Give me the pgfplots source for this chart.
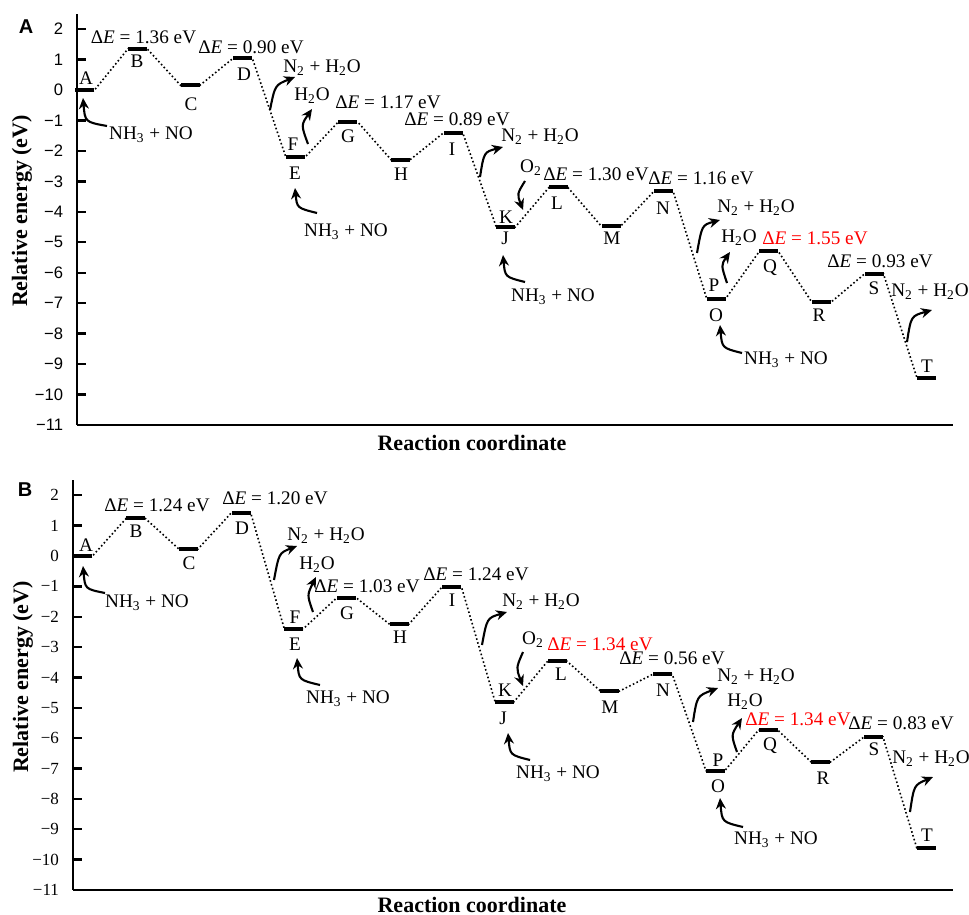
\documentclass[border=0pt]{standalone}
\usepackage{fontspec}
\setmainfont{Liberation Serif}
\newfontfamily\sansfont{Liberation Sans}
\usepackage{pgfplots}
\pgfplotsset{compat=1.18}
\usetikzlibrary{arrows.meta}
\newcommand{\nhno}{NH\textsubscript{3} + NO}
\newcommand{\nhho}{N\textsubscript{2} + H\textsubscript{2}O}
\newcommand{\hho}{H\textsubscript{2}O}
\newcommand{\oo}{O\textsubscript{2}}
\newcommand{\dE}[1]{Δ\textit{E} = #1 eV}
\pgfplotsset{energy/.style={
  scale only axis, axis lines=left, axis line style={-, line width=1.3pt},
  ymin=-11, ymax=2.5, xmax=16.5, xtick=\empty,
  ytick={-11,-10,-9,-8,-7,-6,-5,-4,-3,-2,-1,0,1,2},
  yticklabels={−11,−10,−9,−8,−7,−6,−5,−4,−3,−2,−1,0,1,2},
  tick align=inside, major tick length=4.5pt,
  ytick style={line width=1.2pt, black},
  clip=false,
}}
\begin{document}
\begin{tikzpicture}[
  arr/.style={line width=1.05pt,-{Stealth[length=5.5pt,width=5pt]}},
  lab/.style={inner sep=0pt, font=\fontsize{9.6}{11}\selectfont},
  path/.style={black, line width=0.8pt, dash pattern=on 0.8pt off 1.2pt},
  bars/.style={only marks, mark=-, mark size=4.75pt, mark options={line width=2pt, black, solid}},
]
\useasboundingbox (0,0) rectangle (484.5pt,-457.5pt);

% ---------------- Panel A ----------------
\begin{axis}[energy, at={(38.55pt,-212.475pt)}, anchor=south west,
  width=437.9pt, height=205.5pt, xmin=-0.15,
  yticklabel style={font=\fontsize{8.3}{9}\sansfont, xshift=-3.5pt}]
\addplot[path] coordinates {(-0.18,0) (0.18,0) (0.82,1.36) (1.18,1.36) (1.82,0.15) (2.18,0.15) (2.82,1.05) (3.18,1.05) (3.82,-2.21) (4.18,-2.21) (4.82,-1.04) (5.18,-1.04) (5.82,-2.29) (6.18,-2.29) (6.82,-1.40) (7.18,-1.40) (7.82,-4.50) (8.18,-4.50) (8.82,-3.20) (9.18,-3.20) (9.82,-4.48) (10.18,-4.48) (10.82,-3.32) (11.18,-3.32) (11.82,-6.85) (12.18,-6.85) (12.82,-5.30) (13.18,-5.30) (13.82,-6.97) (14.18,-6.97) (14.82,-6.04) (15.18,-6.04) (15.82,-9.47) (16.18,-9.47)};
\addplot[bars] table {
x y
0 0.00
1 1.36
2 0.15
3 1.05
4 -2.21
5 -1.04
6 -2.29
7 -1.40
8 -4.50
9 -3.20
10 -4.48
11 -3.32
12 -6.85
13 -5.30
14 -6.97
15 -6.04
16 -9.47
};
\end{axis}

% ---------------- Panel B ----------------
\begin{axis}[energy, at={(36.49pt,-444.98pt)}, anchor=south west,
  width=439.78pt, height=204.93pt, xmin=-0.19,
  yticklabel style={font=\fontsize{8.5}{10}\selectfont, xshift=-3.5pt}]
\addplot[path] coordinates {(-0.18,0) (0.18,0) (0.82,1.24) (1.18,1.24) (1.82,0.23) (2.18,0.23) (2.82,1.43) (3.18,1.43) (3.82,-2.40) (4.18,-2.40) (4.82,-1.37) (5.18,-1.37) (5.82,-2.25) (6.18,-2.25) (6.82,-1.01) (7.18,-1.01) (7.82,-4.80) (8.18,-4.80) (8.82,-3.46) (9.18,-3.46) (9.82,-4.45) (10.18,-4.45) (10.82,-3.89) (11.18,-3.89) (11.82,-7.07) (12.18,-7.07) (12.82,-5.73) (13.18,-5.73) (13.82,-6.79) (14.18,-6.79) (14.82,-5.96) (15.18,-5.96) (15.82,-9.61) (16.18,-9.61)};
\addplot[bars] table {
x y
0 0.00
1 1.24
2 0.23
3 1.43
4 -2.40
5 -1.37
6 -2.25
7 -1.01
8 -4.80
9 -3.46
10 -4.45
11 -3.89
12 -7.07
13 -5.73
14 -6.79
15 -5.96
16 -9.61
};
\end{axis}

% ---------------- Annotations (pixel grid) ----------------
\begin{scope}[x=0.5pt, y=-0.5pt]
% panel letters and axis labels
\node[inner sep=0pt, font=\fontsize{10}{12}\sansfont\bfseries] at (26,27) {A};
\node[inner sep=0pt, font=\fontsize{10}{12}\sansfont\bfseries] at (25,490) {B};
\node[inner sep=0pt, rotate=90, font=\fontsize{11}{13}\selectfont\bfseries] at (22,211) {Relative energy (eV)};
\node[inner sep=0pt, rotate=90, font=\fontsize{11}{13}\selectfont\bfseries] at (23,677) {Relative energy (eV)};
\node[inner sep=0pt, font=\fontsize{11}{13}\selectfont\bfseries] at (472,443) {Reaction coordinate};
\node[inner sep=0pt, font=\fontsize{11}{13}\selectfont\bfseries] at (472,905) {Reaction coordinate};

% ---- Panel A letters
\foreach \t/\x/\y in {A/86/78, B/137/61, C/191/104, D/244/74, F/293/144, E/295/173, G/348/136, H/401/174, I/452/149, K/506/217, J/505/238, L/557/203, M/612/238, N/663/208, P/714/285, O/716/315, Q/770/268, R/819/315, S/874/288, T/927/366}
  \node[lab] at (\x,\y) {\t};
% ---- Panel A Delta E
\node[lab] at (143.5,37) {\dE{1.36}};
\node[lab] at (251,47) {\dE{0.90}};
\node[lab] at (388,102) {\dE{1.17}};
\node[lab] at (457,119) {\dE{0.89}};
\node[lab] at (596,174) {\dE{1.30}};
\node[lab] at (701,178) {\dE{1.16}};
\node[lab, text=red] at (815,238) {\dE{1.55}};
\node[lab] at (880,261) {\dE{0.93}};
% ---- Panel A species
\node[lab] at (151,135) {\nhno};
\node[lab] at (322,68) {\nhho};
\node[lab] at (312,96) {\hho};
\node[lab] at (346,232) {\nhno};
\node[lab] at (540,137) {\nhho};
\node[lab] at (531,168) {\oo};
\node[lab] at (553,297) {\nhno};
\node[lab] at (756,208) {\nhho};
\node[lab] at (739,238) {\hho};
\node[lab] at (786,360) {\nhno};
\node[lab] at (930,292) {\nhho};
% ---- Panel A arrows
\draw[arr] (107,126) .. controls (85,122) .. (83,98);
\draw[arr] (270,110) .. controls (275,85) .. (295,77);
\draw[arr] (308,144) .. controls (301,125) .. (312,109);
\draw[arr] (317,213) .. controls (297,208) .. (295,188);
\draw[arr] (480,177) .. controls (484,152) .. (503,147);
\draw[arr] (525,181) .. controls (517,194) .. (523,210);
\draw[arr] (525,282) .. controls (505,277) .. (503,255);
\draw[arr] (697,253) .. controls (702,225) .. (720,220);
\draw[arr] (727,283) .. controls (721,265) .. (730,252);
\draw[arr] (742,353) .. controls (722,348) .. (720,325);
\draw[arr] (907,342) .. controls (911,316) .. (932,310);

% ---- Panel B letters
\foreach \t/\x/\y in {A/86/545, B/136/531, C/189/563, D/242/528, F/295/617, E/295/644, G/347/613, H/400/637, I/452/600, K/505/690, J/503/718, L/561/674, M/610/707, N/663/690, P/718/760, O/718/786, Q/770/746, R/823/778, S/874/749, T/927/835}
  \node[lab] at (\x,\y) {\t};
% ---- Panel B Delta E
\node[lab] at (157,505) {\dE{1.24}};
\node[lab] at (275,498) {\dE{1.20}};
\node[lab] at (367,586) {\dE{1.03}};
\node[lab] at (476,574) {\dE{1.24}};
\node[lab, text=red] at (600,644) {\dE{1.34}};
\node[lab] at (672,658) {\dE{0.56}};
\node[lab, text=red] at (798,719) {\dE{1.34}};
\node[lab] at (901,723) {\dE{0.83}};
% ---- Panel B species
\node[lab] at (147,603) {\nhno};
\node[lab] at (326,536) {\nhho};
\node[lab] at (317,565) {\hho};
\node[lab] at (348,699) {\nhno};
\node[lab] at (541,602) {\nhho};
\node[lab] at (533,640) {\oo};
\node[lab] at (558,774) {\nhno};
\node[lab] at (756,677) {\nhho};
\node[lab] at (745,702) {\hho};
\node[lab] at (776,840) {\nhno};
\node[lab] at (931,759) {\nhho};
% ---- Panel B arrows
\draw[arr] (105,593) .. controls (85,589) .. (83,566);
\draw[arr] (274,580) .. controls (279,553) .. (297,546);
\draw[arr] (313,612) .. controls (307,595) .. (316,577);
\draw[arr] (320,685) .. controls (299,680) .. (297,658);
\draw[arr] (482,645) .. controls (487,618) .. (507,612);
\draw[arr] (523,652) .. controls (516,668) .. (523,686);
\draw[arr] (530,760) .. controls (510,755) .. (508,733);
\draw[arr] (693,722) .. controls (697,696) .. (718,688);
\draw[arr] (737,752) .. controls (731,735) .. (742,718);
\draw[arr] (743,827) .. controls (722,822) .. (720,798);
\draw[arr] (910,812) .. controls (914,785) .. (933,777);
\end{scope}
\end{tikzpicture}
\end{document}
